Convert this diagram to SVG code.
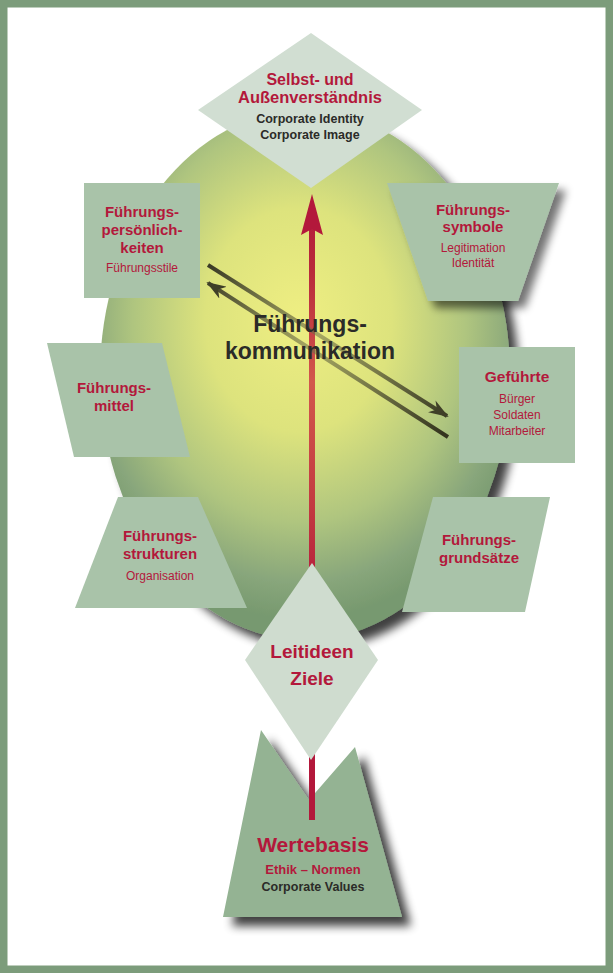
<svg xmlns="http://www.w3.org/2000/svg" width="613" height="973" viewBox="0 0 613 973">
<style>
.box{fill:#a9c3a9}
.dia{fill:#d1ded2}
.t{font-family:"Liberation Sans","DejaVu Sans",sans-serif;text-anchor:middle}
.rb{fill:#b3183b;font-weight:bold}
.rn{fill:#b3183b;font-size:12px}
.db{fill:#2b2b28;font-weight:bold}
</style>
<defs>
<radialGradient id="sph" cx="300" cy="325" r="245" fx="298" fy="318" gradientUnits="userSpaceOnUse" gradientTransform="translate(300 325) scale(1 1.2) translate(-300 -325)">
<stop offset="0" stop-color="#eeee82"/>
<stop offset="0.38" stop-color="#dde37d"/>
<stop offset="0.68" stop-color="#afc57f"/>
<stop offset="0.88" stop-color="#88a67b"/>
<stop offset="1" stop-color="#77996f"/>
</radialGradient>
<linearGradient id="redg" x1="0" y1="195" x2="0" y2="820" gradientUnits="userSpaceOnUse">
<stop offset="0" stop-color="#b3183b"/>
<stop offset="0.12" stop-color="#b82a3a"/>
<stop offset="0.3" stop-color="#d2574c"/>
<stop offset="0.5" stop-color="#c23a40"/>
<stop offset="0.65" stop-color="#b3183b"/>
<stop offset="1" stop-color="#b3183b"/>
</linearGradient>
<linearGradient id="olv" x1="208" y1="270" x2="448" y2="425" gradientUnits="userSpaceOnUse">
<stop offset="0" stop-color="#3b3b26"/>
<stop offset="0.45" stop-color="#6e6e48" stop-opacity="0.55"/>
<stop offset="1" stop-color="#35351f"/>
</linearGradient>
<filter id="sh" x="-20%" y="-20%" width="150%" height="150%">
<feGaussianBlur in="SourceAlpha" stdDeviation="5"/>
<feOffset dx="9" dy="9" result="b"/>
<feComponentTransfer><feFuncA type="linear" slope="0.75"/></feComponentTransfer>
<feMerge><feMergeNode/><feMergeNode in="SourceGraphic"/></feMerge>
</filter>
<filter id="sh2" x="-20%" y="-20%" width="150%" height="150%">
<feGaussianBlur in="SourceAlpha" stdDeviation="4"/>
<feOffset dx="7" dy="7" result="b"/>
<feComponentTransfer><feFuncA type="linear" slope="0.55"/></feComponentTransfer>
<feMerge><feMergeNode/><feMergeNode in="SourceGraphic"/></feMerge>
</filter>
<marker id="ah" viewBox="0 0 20 14" refX="18" refY="7" markerWidth="20" markerHeight="14" markerUnits="userSpaceOnUse" orient="auto">
<path d="M0,0 L20,7 L0,14 L6,7 Z" fill="#3f3f28"/>
</marker>
</defs>
<rect x="3.5" y="3.5" width="606" height="966" fill="#ffffff" stroke="#7c9c7b" stroke-width="8"/>

<g id="sphere">
<ellipse cx="305" cy="375" rx="205" ry="265" fill="url(#sph)" filter="url(#sh)"/>
</g>

<g id="wertebasis">
<polygon points="261,730 309,800 355,747 402,917 223,917" fill="#94b393" filter="url(#sh)"/>
</g>

<g id="connectors">
<line x1="312" y1="228" x2="312" y2="820" stroke="url(#redg)" stroke-width="6"/>
<polygon points="312,194 323,235 312,229 301,235" fill="#b3183b"/>
<line x1="208" y1="265" x2="447" y2="416" stroke="url(#olv)" stroke-width="4" marker-end="url(#ah)"/>
<line x1="448" y1="437" x2="208" y2="283" stroke="url(#olv)" stroke-width="4" marker-end="url(#ah)"/>
</g>

<g id="selbst">
<polygon class="dia" points="311,33 422,110 311,188 198,110"/>
<text class="t rb" x="310" y="85" font-size="16">Selbst- und</text>
<text class="t rb" x="310" y="103" font-size="16.5">Außenverständnis</text>
<text class="t db" x="310" y="123" font-size="12.5">Corporate Identity</text>
<text class="t db" x="310" y="139" font-size="12.5">Corporate Image</text>
</g>

<g id="persoenlichkeiten">
<rect class="box" x="84" y="183" width="116" height="115"/>
<text class="t rb" x="142" y="217" font-size="15">Führungs-</text>
<text class="t rb" x="142" y="235" font-size="15">persönlich-</text>
<text class="t rb" x="142" y="253" font-size="15">keiten</text>
<text class="t rn" x="142" y="272">Führungsstile</text>
</g>

<g id="symbole">
<polygon class="box" points="387,183 559,183 518,301 428,301" filter="url(#sh2)"/>
<text class="t rb" x="473" y="215" font-size="15">Führungs-</text>
<text class="t rb" x="473" y="232" font-size="15">symbole</text>
<text class="t rn" x="473" y="252">Legitimation</text>
<text class="t rn" x="473" y="267">Identität</text>
</g>

<g id="mittel">
<polygon class="box" points="47,343 162,343 190,457 74,457"/>
<text class="t rb" x="114" y="393" font-size="15">Führungs-</text>
<text class="t rb" x="114" y="411" font-size="15">mittel</text>
</g>

<g id="gefuehrte">
<rect class="box" x="459" y="347" width="116" height="116"/>
<text class="t rb" x="517" y="382" font-size="15.5">Geführte</text>
<text class="t rn" x="517" y="403">Bürger</text>
<text class="t rn" x="517" y="419">Soldaten</text>
<text class="t rn" x="517" y="435">Mitarbeiter</text>
</g>

<g id="strukturen">
<polygon class="box" points="118,497 198,497 247,608 75,608"/>
<text class="t rb" x="160" y="541" font-size="15">Führungs-</text>
<text class="t rb" x="160" y="559" font-size="15">strukturen</text>
<text class="t rn" x="160" y="580">Organisation</text>
</g>

<g id="grundsaetze">
<polygon class="box" points="433,497 550,497 525,612 402,612"/>
<text class="t rb" x="479" y="545" font-size="15">Führungs-</text>
<text class="t rb" x="479" y="563" font-size="15">grundsätze</text>
</g>

<g id="leitideen">
<polygon points="312,563 378,660 311,760 245,660" fill="#cfdccf"/>
<text class="t rb" x="312" y="658" font-size="19">Leitideen</text>
<text class="t rb" x="312" y="685" font-size="19">Ziele</text>
</g>

<g id="wertebasis-text">
<text class="t rb" x="313" y="852" font-size="21">Wertebasis</text>
<text class="t rb" x="313" y="874" font-size="13">Ethik – Normen</text>
<text class="t db" x="313" y="891" font-size="12.5">Corporate Values</text>
</g>

<g id="kommunikation">
<text class="t db" x="310" y="332" font-size="23">Führungs-</text>
<text class="t db" x="310" y="359" font-size="23">kommunikation</text>
</g>
</svg>
